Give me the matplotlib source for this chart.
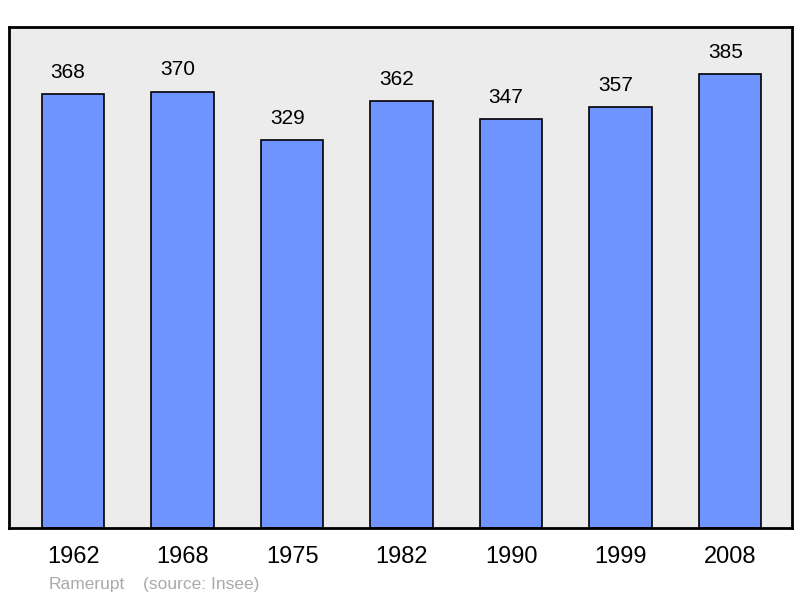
import matplotlib.pyplot as plt

plt.rcParams["font.family"] = ["Liberation Sans", "DejaVu Sans"]

years = ["1962", "1968", "1975", "1982", "1990", "1999", "2008"]
population = [368, 370, 329, 362, 347, 357, 385]

fig = plt.figure(figsize=(8, 5.98), dpi=100)
ax = fig.add_axes([0.01125, 0.117, 0.97875, 0.838])
ax.set_facecolor("#ececec")

x = range(len(years))
bars = ax.bar(x, population, width=0.57, color="#7094ff",
              edgecolor="black", linewidth=1.2, zorder=2)
for bar, val in zip(bars, population):
    # labels sit a little left of the bar centre in the original
    ax.text(bar.get_x() + bar.get_width() / 2 - 0.045, val + 18.5, str(val),
            ha="center", va="center", fontsize=15)

ax.set_xlim(-0.585, 6.565)
ax.set_ylim(0, 425)
ax.set_yticks([])
ax.set_xticks(list(x))
ax.set_xticklabels(years, fontsize=17)
ax.tick_params(axis="x", length=0, pad=13)
for s in ax.spines.values():
    s.set_linewidth(2)

fig.text(49 / 800, 1 - 584 / 598, "Ramerupt", color="#aaaaaa",
         fontsize=12.5, va="center")
fig.text(143 / 800, 1 - 584 / 598, "(source: Insee)", color="#aaaaaa",
         fontsize=12.5, va="center")

fig.savefig("out.png", dpi=100)
